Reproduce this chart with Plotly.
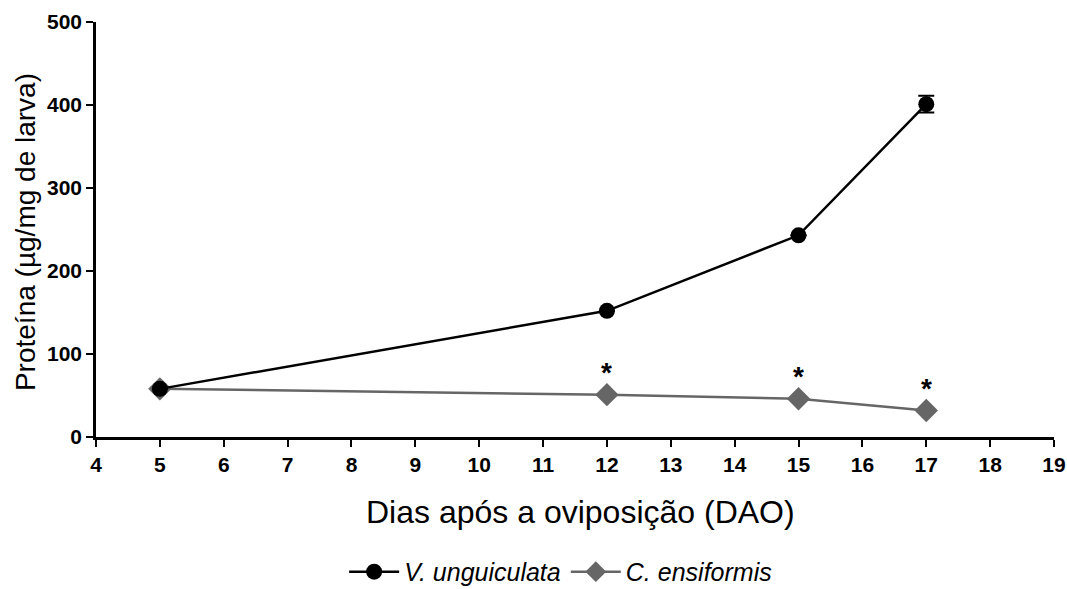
import plotly.graph_objects as go

# Days after oviposition
dias = [5, 12, 15, 17]

# Protein content (µg/mg of larva)
v_unguiculata = [58, 152, 243, 401]
v_unguiculata_err = [0, 0, 0, 10]
c_ensiformis = [58, 51, 46, 32]

# Days with a significant difference between diets
signif_dias = [12, 15, 17]

font_family = "Arial, Liberation Sans, sans-serif"

fig = go.Figure()

fig.add_trace(go.Scatter(
    x=dias, y=c_ensiformis, mode="lines+markers", name="C. ensiformis",
    line=dict(color="#666666", width=2.5),
    marker=dict(symbol="diamond", size=18, color="#666666"),
))

fig.add_trace(go.Scatter(
    x=dias, y=v_unguiculata, mode="lines+markers", name="V. unguiculata",
    line=dict(color="black", width=2.5),
    marker=dict(symbol="circle", size=16, color="black"),
    error_y=dict(type="data", array=v_unguiculata_err, visible=True,
                 color="black", thickness=2, width=8),
))

for d in signif_dias:
    val = c_ensiformis[dias.index(d)]
    fig.add_annotation(x=d, y=val, text="<b>*</b>", showarrow=False, yshift=22,
                       font=dict(family=font_family, size=28, color="black"))

# Axis titles
fig.add_annotation(xref="paper", yref="paper", x=0.506, y=-0.18,
                   xanchor="center", yanchor="middle", showarrow=False,
                   text="Dias após a oviposição (DAO)",
                   font=dict(family=font_family, size=32, color="black"))
fig.add_annotation(xref="paper", yref="paper", x=-0.073, y=0.494,
                   xanchor="center", yanchor="middle", showarrow=False,
                   textangle=-90, text="Proteína (µg/mg de larva)",
                   font=dict(family=font_family, size=28, color="black"))

axis_common = dict(
    showgrid=False, zeroline=False, automargin=False,
    showline=True, linecolor="black", linewidth=2.5,
    ticks="outside", ticklen=7, tickwidth=2, tickcolor="black",
    tickfont=dict(size=21, family=font_family, weight="bold", color="black"),
)

fig.update_layout(
    width=1067, height=589,
    margin=dict(l=96, r=13, t=22, b=152, autoexpand=False),
    paper_bgcolor="white", plot_bgcolor="white",
    font=dict(family=font_family, color="black"),
    showlegend=True,
    legend=dict(orientation="h", x=0.485, xanchor="center", y=-0.325, yanchor="middle",
                traceorder="reversed",
                font=dict(family=font_family, size=25, style="italic"),
                itemwidth=50),
    xaxis=dict(range=[4, 19], tickmode="linear", tick0=4, dtick=1, **axis_common),
    yaxis=dict(range=[0, 500], tickmode="linear", tick0=0, dtick=100, **axis_common),
)

fig.write_html("out.html")
